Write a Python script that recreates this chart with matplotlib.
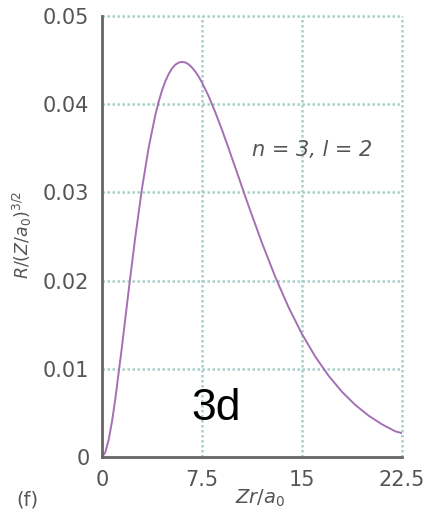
import matplotlib
matplotlib.use("Agg")
import matplotlib.pyplot as plt

# Values
rho = [0, 0.25, 0.5, 0.75, 1, 1.5, 2, 2.5, 3, 3.5, 4, 4.25, 4.5, 4.75, 5, 5.25,
       5.5, 5.75, 6, 6.25, 6.5, 6.75, 7, 7.25, 7.5, 8, 8.5, 9, 9.5, 10,
       11, 12, 13, 14, 15, 16, 17, 18, 19, 20, 21, 22, 22.5]
R = [0.0, 0.00053, 0.00195, 0.00403, 0.00659, 0.01255, 0.01889, 0.02498,
     0.03045, 0.03508, 0.03878, 0.04028, 0.04155, 0.0426, 0.04342, 0.04405,
     0.04448, 0.04472, 0.0448, 0.04473, 0.04452, 0.04416, 0.0437, 0.04313,
     0.04246, 0.0409, 0.03907, 0.03709, 0.03497, 0.0328, 0.02844, 0.02426,
     0.0204, 0.01695, 0.01394, 0.01137, 0.0092, 0.00739, 0.0059, 0.00468,
     0.0037, 0.00291, 0.0027]

xticks = [0, 7.5, 15, 22.5]
xticklabels = ["0", "7.5", "15", "22.5"]
yticks = [0, 0.01, 0.02, 0.03, 0.04, 0.05]
yticklabels = ["0", "0.01", "0.02", "0.03", "0.04", "0.05"]

fig = plt.figure(figsize=(4.29, 5.18), dpi=100)
ax = fig.add_axes([102/429, 61/518, 300/429, 441/518])

grid_color = "#a8d0cb"
for xv in xticks[1:]:
    ax.axvline(xv, color=grid_color, lw=1.8, ls=(0, (1, 1)), zorder=1,
               clip_on=False)
for yv in yticks[1:]:
    ax.axhline(yv, color=grid_color, lw=1.8, ls=(0, (1, 1)), zorder=1,
               clip_on=False)

ax.plot(rho, R, color="#a470b4", lw=1.4, zorder=3, solid_capstyle="round",
        solid_joinstyle="round")

ax.set_xlim(0, 22.5)
ax.set_ylim(0, 0.05)
ax.set_xticks(xticks)
ax.set_xticklabels(xticklabels)
ax.set_yticks(yticks)
ax.set_yticklabels(yticklabels)
ax.tick_params(length=0, labelsize=15, colors="#555555", pad=9)

for s in ["top", "right"]:
    ax.spines[s].set_visible(False)
for s in ["left", "bottom"]:
    ax.spines[s].set_color("#666666")
    ax.spines[s].set_linewidth(2.0)
    ax.spines[s].set_zorder(4)

ax.text(15.75, 0.0348, "n = 3, l = 2", fontsize=15, style="italic",
        color="#555555", ha="center", va="center")
ax.text(8.55, 0.0042, "3d", fontsize=32, family="Liberation Sans",
        color="black", ha="center", va="baseline")

fig.text(22/429, 1 - 235/518, r"$R/(Z/a_0)^{3/2}$", rotation=90,
         fontsize=12.5, color="#555555", ha="center", va="center")
fig.text(260/429, 1 - 498/518, r"$Zr/a_0$", fontsize=14,
         color="#555555", ha="center", va="center")
fig.text(27/429, 1 - 500/518, "(f)", fontsize=14, color="#555555",
         ha="center", va="center")

fig.savefig("out.png", dpi=100)
